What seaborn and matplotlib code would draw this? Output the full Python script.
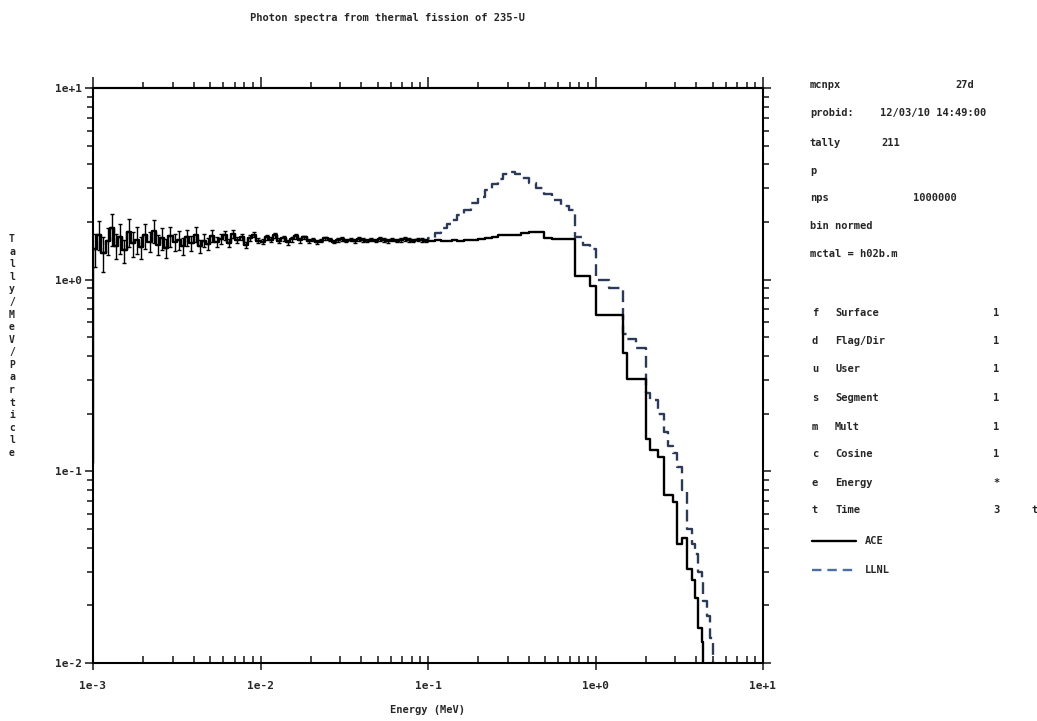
import numpy as np
import pandas as pd
import matplotlib
matplotlib.use("Agg")
import matplotlib.pyplot as plt
import seaborn as sns
from matplotlib.lines import Line2D
from matplotlib.ticker import LogLocator, NullFormatter

# ---------------- data ----------------
# low-energy tally bins: 40 per decade from 1e-3 to 1e-1 MeV
low_edges = np.logspace(-3, -1, 81)
ace_low = [1.45, 1.72, 1.38, 1.60, 1.85, 1.50, 1.66, 1.42, 1.78, 1.55,
           1.62, 1.48, 1.70, 1.58, 1.80, 1.52, 1.64, 1.46, 1.68, 1.57,
           1.61, 1.50, 1.66, 1.55, 1.72, 1.49, 1.60, 1.54, 1.69, 1.58,
           1.63, 1.70, 1.56, 1.74, 1.61, 1.67, 1.52, 1.65, 1.72, 1.60,
           1.58, 1.66, 1.62, 1.70, 1.60, 1.64, 1.57, 1.63, 1.68, 1.61,
           1.66, 1.59, 1.62, 1.57, 1.60, 1.64, 1.62, 1.58, 1.61, 1.63,
           1.60, 1.62, 1.59, 1.63, 1.61, 1.60, 1.62, 1.60, 1.63, 1.61,
           1.59, 1.62, 1.60, 1.61, 1.63, 1.61, 1.60, 1.62, 1.61, 1.60]
ace_low_relerr = [0.20, 0.17, 0.21, 0.16, 0.19, 0.15, 0.18, 0.14, 0.17, 0.15,
                  0.16, 0.13, 0.15, 0.12, 0.14, 0.12, 0.13, 0.11, 0.12, 0.10,
                  0.11, 0.10, 0.10, 0.09, 0.09, 0.08, 0.08, 0.07, 0.07, 0.06,
                  0.06, 0.05, 0.05, 0.05, 0.04, 0.04, 0.04, 0.04, 0.03, 0.03,
                  0.03, 0.03, 0.03, 0.03, 0.03, 0.03, 0.03, 0.03, 0.03, 0.03,
                  0.02, 0.02, 0.02, 0.02, 0.02, 0.02, 0.02, 0.02, 0.02, 0.02,
                  0.02, 0.02, 0.02, 0.02, 0.02, 0.02, 0.02, 0.02, 0.02, 0.02,
                  0.02, 0.02, 0.02, 0.02, 0.02, 0.02, 0.02, 0.02, 0.02, 0.02]
ace_start = 0.11   # value drawn at the 1e-3 MeV lower edge

high_edges = [0.1, 0.11, 0.12, 0.13, 0.14, 0.15, 0.165, 0.18, 0.2, 0.22,
              0.24, 0.26, 0.28, 0.3, 0.33, 0.36, 0.4, 0.44, 0.49, 0.55,
              0.62, 0.69, 0.755, 0.84, 0.93, 1.0, 1.2, 1.46, 1.54, 1.75,
              2.0, 2.11, 2.36, 2.56, 2.72, 2.9, 3.07, 3.28, 3.52, 3.77,
              3.93, 4.1, 4.32, 4.39, 4.63, 4.83, 5.03, 5.5]
ace_high = [1.60, 1.62, 1.60, 1.59, 1.61, 1.60, 1.62, 1.61, 1.63, 1.64,
            1.66, 1.70, 1.71, 1.71, 1.72, 1.75, 1.78, 1.78, 1.64, 1.63,
            1.63, 1.63,
            1.05, 1.05, 0.93, 0.655, 0.655, 0.415, 0.303, 0.303, 0.148, 0.129,
            0.119, 0.075, 0.075, 0.069, 0.042, 0.045, 0.031, 0.027, 0.0219, 0.0152,
            0.0129, 0.0, 0.0, 0.0, 0.0]
llnl_high = [1.65, 1.75, 1.85, 1.95, 2.05, 2.17, 2.32, 2.50, 2.70, 2.95,
             3.15, 3.35, 3.55, 3.65, 3.55, 3.40, 3.20, 3.00, 2.80, 2.60,
             2.42, 2.30,
             1.66, 1.52, 1.45, 1.00, 0.90, 0.52, 0.49, 0.44, 0.256, 0.235,
             0.20, 0.16, 0.135, 0.125, 0.105, 0.08, 0.05, 0.042, 0.037, 0.030,
             0.027, 0.021, 0.0175, 0.0135, 0.0]

xtick_vals = [1e-3, 1e-2, 1e-1, 1e0, 1e1]
xtick_labels = ["1e-3", "1e-2", "1e-1", "1e+0", "1e+1"]
ytick_vals = [1e-2, 1e-1, 1e0, 1e1]
ytick_labels = ["1e-2", "1e-1", "1e+0", "1e+1"]

info_rows = [("mcnpx", "27d"), ("probid:", "12/03/10 14:49:00"), ("tally", "211"),
             ("p", ""), ("nps", "1000000"), ("bin normed", ""), ("mctal = h02b.m", "")]
tally_rows = [("f", "Surface", "1"), ("d", "Flag/Dir", "1"), ("u", "User", "1"),
              ("s", "Segment", "1"), ("m", "Mult", "1"), ("c", "Cosine", "1"),
              ("e", "Energy", "*"), ("t", "Time", "3")]

# ---------------- build step series ----------------
edges = np.concatenate([low_edges, np.array(high_edges[1:])])
ace_vals = np.array(ace_low + ace_high)
llnl_vals = np.array(ace_low + llnl_high)

ace_df = pd.DataFrame({"E": np.concatenate([[edges[0]], edges]),
                       "v": np.concatenate([[ace_start], ace_vals, [ace_vals[-1]]])})
llnl_df = pd.DataFrame({"E": edges,
                        "v": np.concatenate([llnl_vals, [llnl_vals[-1]]])})

# ---------------- figure ----------------
sns.set_style("ticks")
plt.rcParams["font.family"] = ["DejaVu Sans Mono"]
plt.rcParams["font.weight"] = "bold"

fig = plt.figure(figsize=(10.37, 7.21), dpi=100)
ax = fig.add_axes([93 / 1037, 1 - 663 / 721, 670 / 1037, 575 / 721])
ax.set_xscale("log")
ax.set_yscale("log")

sns.lineplot(data=llnl_df, x="E", y="v", ax=ax, sort=False, estimator=None,
             drawstyle="steps-post", color="#2c3a58", linewidth=1.7,
             dashes=False, linestyle=(0, (5, 2.5)))
sns.lineplot(data=ace_df, x="E", y="v", ax=ax, sort=False, estimator=None,
             drawstyle="steps-post", color="black", linewidth=1.7)

low_centers = np.sqrt(low_edges[:-1] * low_edges[1:])
ax.errorbar(low_centers, ace_low, yerr=np.array(ace_low) * np.array(ace_low_relerr),
            fmt="none", ecolor="black", elinewidth=1.0, capsize=1.6, capthick=1.0)

ax.set_xlim(1e-3, 1e1)
ax.set_ylim(1e-2, 1e1)
ax.set_xlabel("")
ax.set_ylabel("")

ax.set_xticks(xtick_vals, labels=xtick_labels)
ax.set_yticks(ytick_vals, labels=ytick_labels)
ax.xaxis.set_minor_locator(LogLocator(base=10, subs=np.arange(2, 10)))
ax.yaxis.set_minor_locator(LogLocator(base=10, subs=np.arange(2, 10)))
ax.xaxis.set_minor_formatter(NullFormatter())
ax.yaxis.set_minor_formatter(NullFormatter())

ax.tick_params(axis="x", which="major", direction="inout", length=10, width=1.2,
               labelsize=8, pad=8)
ax.tick_params(axis="x", which="minor", direction="in", length=5, width=1.2)
ax.tick_params(axis="y", which="major", direction="out", length=6, width=1.2,
               labelsize=8, left=True, right=True, pad=2)
ax.tick_params(axis="y", which="minor", direction="out", length=4, width=1.2,
               left=True, right=True)

top = ax.secondary_xaxis("top")
top.set_xticks(xtick_vals)
top.xaxis.set_minor_locator(LogLocator(base=10, subs=np.arange(2, 10)))
top.xaxis.set_minor_formatter(NullFormatter())
top.tick_params(axis="x", which="major", direction="out", length=8, width=1.2, labeltop=False)
top.tick_params(axis="x", which="minor", direction="out", length=4, width=1.2)
for s in top.spines.values():
    s.set_linewidth(1.5)

for s in ax.spines.values():
    s.set_visible(True)
    s.set_linewidth(1.5)
    s.set_color("black")

# ---------------- texts ----------------
def fx(px):
    return px / 1037

def fy(py):
    return 1 - py / 721

fs = 7.5
fig.text(fx(387), fy(18), "Photon spectra from thermal fission of 235-U",
         ha="center", va="center", fontsize=fs)
fig.text(fx(428), fy(710), "Energy (MeV)", ha="center", va="center", fontsize=fs)
fig.text(fx(12), fy(346), "\n".join("Tally/MeV/Particle"), ha="center", va="center",
         fontsize=7, linespacing=1.32)

info_y = [85, 113, 143, 171, 198, 226, 254]
info_x2 = [955, 880, 881, 0, 913, 0, 0]
for (a, b), yy, xx in zip(info_rows, info_y, info_x2):
    fig.text(fx(810), fy(yy), a, ha="left", va="center", fontsize=fs)
    if b:
        fig.text(fx(xx), fy(yy), b, ha="left", va="center", fontsize=fs)

tally_y = [313, 341, 369, 398, 427, 454, 483, 510]
for (a, b, c), yy in zip(tally_rows, tally_y):
    fig.text(fx(812), fy(yy), a, ha="left", va="center", fontsize=fs)
    fig.text(fx(835), fy(yy), b, ha="left", va="center", fontsize=fs)
    fig.text(fx(993), fy(yy), c, ha="left", va="center", fontsize=fs)
fig.text(fx(1032), fy(510), "t", ha="left", va="center", fontsize=fs)

fig.add_artist(Line2D([fx(812), fx(856)], [fy(541), fy(541)], color="black", lw=1.7))
fig.text(fx(865), fy(541), "ACE", ha="left", va="center", fontsize=fs)
fig.add_artist(Line2D([fx(812), fx(856)], [fy(570), fy(570)], color="#4a6fa5", lw=1.7,
                      linestyle=(0, (4, 2.5))))
fig.text(fx(865), fy(570), "LLNL", ha="left", va="center", fontsize=fs)

fig.savefig("out.png", dpi=100)
